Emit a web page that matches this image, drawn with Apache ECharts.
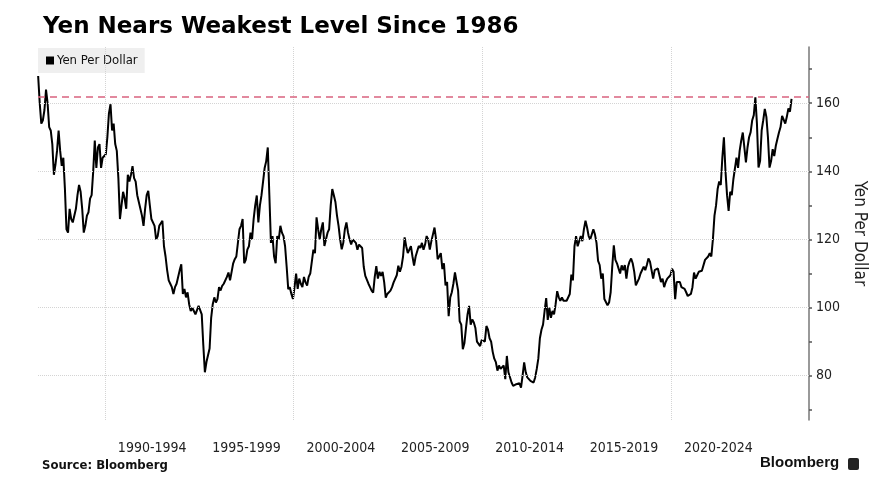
<!DOCTYPE html>
<html>
<head>
<meta charset="utf-8">
<title>Yen Nears Weakest Level Since 1986</title>
<script src="https://cdn.jsdelivr.net/npm/echarts@6/dist/echarts.min.js"></script>
<style>
  html, body { margin: 0; padding: 0; background: #fff; }
  #chart { width: 884px; height: 498px; }
</style>
</head>
<body>
<div id="chart"></div>
<script>
// USD/JPY, monthly readings (yen per dollar)
// 1986 starts in June, every other block starts in January
const yen1980s = [
  168, 160, 154, 155, 158, 164, 160,
  153, 152, 148, 139, 142, 146, 152, 146, 141.6, 144, 135, 123,
  122, 129, 126, 125, 125, 129, 133, 136, 134, 129, 122, 124,
  127, 128, 132, 133, 140, 149, 141, 147, 148, 141, 144, 144
];
const yen1990s = [
  145, 150, 157, 159.7, 152, 154, 148, 146, 138, 126, 130, 134,
  132, 129, 139, 137, 139, 141.5, 138, 137, 133, 131, 129, 127,
  124, 129, 133, 134.3, 130, 126, 126, 124, 120, 121, 124, 124,
  125.5, 118, 115, 111, 108, 107, 106, 104, 106, 107, 109, 111,
  112.7, 104, 105.5, 103, 104.5, 101, 99, 100, 99, 98, 98.5, 100.5,
  100, 98, 89, 81, 84, 84.5, 88, 97, 101, 103, 101.5, 102.5,
  106, 105, 106.4, 107, 106.5, 109, 110.3, 108, 110.5, 113, 114.2, 115,
  119, 123, 124, 126, 113, 114, 117, 118, 122, 120, 126, 130,
  132.9, 125, 130, 133, 137, 141, 143, 147, 133, 119, 121, 115,
  113, 121, 120, 124, 122, 121, 118, 112, 105.4, 106, 104, 102.5
];
const yen2000s = [
  106, 110, 105.5, 108.5, 107, 106, 109, 107.4, 106.5, 109, 110, 113.5,
  117, 116, 126.5, 123, 120, 123, 125, 118.1, 118, 122, 123, 130,
  134.8, 133, 131, 127, 124, 120, 117.1, 119, 123, 125, 122, 120,
  118.5, 120, 119.5, 119, 117, 118.5, 119, 117.5, 112, 109.3, 109, 107,
  106, 105, 104.4, 109, 112.2, 108.5, 110.5, 109.3, 110.5, 107.5, 102.9, 104,
  103.5, 105, 106, 107.4, 107, 109.5, 112.3, 110.5, 112, 115, 120.6, 118,
  116, 116.1, 118, 115, 112.3, 115, 115, 118.1, 117.5, 119, 117, 118.5,
  121, 120, 117, 119.5, 121.5, 123.5, 120, 114.2, 115, 116, 111.3, 113,
  106.5, 107.5, 97.5, 103, 104.5, 107, 110.3, 110, 105, 96, 95, 87.8,
  89.5, 94, 98, 100.5, 95, 96.5, 95.6, 94, 90, 90.5, 88.7, 90.5
];
const yen2010s = [
  91, 90, 94.6, 93.5, 91, 90, 87, 85, 84, 81.5, 83, 82,
  82.5, 83, 79, 85.8, 81, 80.5, 78, 77, 77, 77.5, 77.5, 77.8,
  76.5, 80, 83.9, 81, 79.5, 79.5, 78.5, 78.5, 78, 79.5, 82, 85,
  91, 93.5, 95, 99, 102.8, 96.4, 100, 97, 99, 98, 101, 104.8,
  103, 102, 103, 102, 101.5, 102, 102.5, 104, 109.7, 108, 118, 121,
  118, 119.5, 121, 119.5, 123, 125.5, 123.5, 121, 120, 120.5, 123, 121.5,
  119, 113.7, 112.5, 108.5, 110, 102.5, 103, 100.7, 101.5, 104.5, 112, 118.3,
  114, 113, 111.5, 110, 112.4, 111, 112.5, 108.5, 112, 113.5, 114.4, 113,
  110.5, 106.5, 106, 108.5, 110, 110.5, 112, 111, 112.5, 114.4, 113.5, 111,
  108.5, 111, 111, 111.5, 109.5, 107.5, 108.5, 106, 107.5, 108.5, 109, 109.5
];
const yen2020s = [
  111.4, 110.5, 102.5, 107.5, 107.4, 107.5, 106, 106, 105.5, 104.5, 103.4, 103.5,
  104, 106, 110.3, 108.5, 109.5, 110.5, 110, 110.8, 111, 114, 113.5, 115,
  116, 115, 120, 127, 130, 134.8, 137, 136, 144, 150, 140, 133,
  128.4, 134, 133, 137.6, 138, 144, 141, 146, 149, 151.4, 151, 142.6,
  147, 150, 151.5, 155, 156.5, 161.7, 154, 141.1, 143, 152, 155, 158.3,
  156, 150, 141.1, 143, 146.5, 144.5, 147.5, 149.5, 151.4, 153, 156.3, 156.5,
  154, 156, 158.5, 157.5, 161.3
];

const blocks = [
  { year: 1986, month: 5, values: yen1980s },
  { year: 1990, month: 0, values: yen1990s },
  { year: 2000, month: 0, values: yen2000s },
  { year: 2010, month: 0, values: yen2010s },
  { year: 2020, month: 0, values: yen2020s },
];

const periodLabels = ['1990-1994', '1995-1999', '2000-2004', '2005-2009', '2010-2014', '2015-2019', '2020-2024'];
const periodMids = [1992.5, 1997.5, 2002.5, 2007.5, 2012.5, 2017.5, 2022.5];
const decadeLines = [1990, 2000, 2010, 2020];
const yLabels = [80, 100, 120, 140, 160];
const yTicks = [70, 80, 90, 100, 110, 120, 130, 140, 150, 160, 170];
const peak1986 = 161.95;

// month index -> decimal year at mid month
let points = [];
blocks.forEach((b)=> {
  b.values.forEach((v, i)=> {
    let m = b.month + i;
    points.push([b.year + (m + 0.5) / 12, v]);
  });
});

const condensed = "'DejaVu Sans Condensed', 'Liberation Sans Narrow', 'Noto Sans', sans-serif";

let chart = echarts.init(document.getElementById('chart'), null, { renderer: 'canvas' });

let option = {
  animation: false,
  backgroundColor: '#fff',
  title: {
    text: 'Yen Nears Weakest Level Since 1986',
    left: 38,
    top: 11,
    textStyle: {
      fontFamily: "'DejaVu Sans', sans-serif",
      fontWeight: 'bold',
      fontSize: 23,
      color: '#000',
    },
  },
  legend: {
    left: 38,
    top: 48,
    data: ['Yen Per Dollar'],
    icon: 'rect',
    itemWidth: 8,
    itemHeight: 8,
    itemGap: 4,
    backgroundColor: '#efefef',
    padding: [6, 7, 6, 8],
    selectedMode: false,
    textStyle: {
      fontFamily: condensed,
      fontSize: 13,
      color: '#111',
      padding: [0, 0, 0, -2],
    },
  },
  grid: {
    left: 38,
    right: 75,
    top: 47,
    bottom: 78,
  },
  xAxis: {
    type: 'value',
    min: 1986.45,
    max: 2027.3,
    axisLine: { show: false },
    axisTick: { show: false },
    splitLine: { show: false },
    axisLabel: {
      customValues: periodMids,
      formatter: (v)=> {
        let i = periodMids.indexOf(v);
        return i >= 0 ? periodLabels[i] : '';
      },
      margin: 21,
      fontFamily: condensed,
      fontSize: 14,
      color: '#222',
    },
  },
  yAxis: {
    type: 'value',
    position: 'right',
    min: 67,
    max: 176.5,
    name: 'Yen Per Dollar',
    nameLocation: 'middle',
    nameRotate: -90,
    nameGap: 27,
    nameTextStyle: {
      fontFamily: condensed,
      fontSize: 17,
      color: '#222',
    },
    axisLine: {
      show: true,
      lineStyle: { color: '#777', width: 1.5 },
    },
    axisTick: {
      show: true,
      customValues: yTicks,
      inside: false,
      length: 3,
      lineStyle: { color: '#555', width: 1.5 },
    },
    axisLabel: {
      customValues: yLabels,
      margin: 7,
      fontFamily: condensed,
      fontSize: 14,
      color: '#222',
    },
    splitLine: { show: false },
  },
  series: [
    {
      // grid lines, kept under the price line
      name: 'grid',
      type: 'line',
      data: [],
      silent: true,
      z: 1,
      markLine: {
        silent: true,
        symbol: ['none', 'none'],
        label: { show: false },
        lineStyle: { color: '#d4d4d4', type: 'dotted', width: 1 },
        data: decadeLines.map((x)=> ({ xAxis: x }))
          .concat(yLabels.map((y)=> ({ yAxis: y }))),
      },
    },
    {
      name: 'Yen Per Dollar',
      type: 'line',
      data: points,
      showSymbol: false,
      symbol: 'none',
      z: 3,
      itemStyle: { color: '#000' },
      lineStyle: { color: '#000', width: 2 },
      markLine: {
        silent: true,
        symbol: ['none', 'none'],
        label: { show: false },
        lineStyle: { color: '#d9637f', type: [7, 5], width: 1.5 },
        data: [{ yAxis: peak1986 }],
      },
    },
  ],
  graphic: [
    {
      type: 'text',
      left: 42,
      top: 459,
      style: {
        text: 'Source: Bloomberg',
        fontFamily: condensed,
        fontWeight: 'bold',
        fontSize: 13,
        fill: '#111',
      },
    },
    {
      type: 'text',
      left: 760,
      top: 455,
      style: {
        text: 'Bloomberg',
        fontFamily: "'Liberation Sans', 'DejaVu Sans', sans-serif",
        fontWeight: 'bold',
        fontSize: 15,
        fill: '#111',
      },
    },
    {
      type: 'rect',
      left: 848,
      top: 458,
      shape: { width: 11, height: 12, r: 2 },
      style: { fill: '#222' },
    },
  ],
};

chart.setOption(option);
</script>
</body>
</html>
